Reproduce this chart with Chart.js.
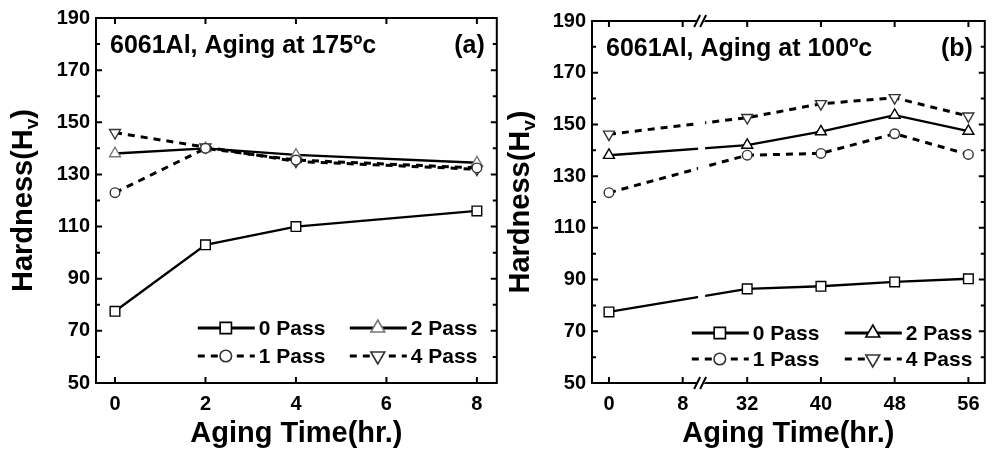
<!DOCTYPE html>
<html>
<head>
<meta charset="utf-8">
<script src="https://cdn.jsdelivr.net/npm/chart.js@4"></script>
<style>
  body { margin: 0; background: #fff; }
  #wrap { position: relative; width: 993px; height: 456px; overflow: hidden; }
  .panel { position: absolute; top: 0; }
</style>
</head>
<body>
<div id="wrap">
  <canvas id="chartA" class="panel" style="left:0" width="505" height="456"></canvas>
  <canvas id="chartB" class="panel" style="left:503px" width="490" height="456"></canvas>
</div>
<script>
// panel (a): aging at 175 C
const hoursA = [0, 2, 4, 8];
const pass0A = [77.5, 103, 110, 116];
const pass1A = [123, 140, 135.5, 132.5];
const pass2A = [138, 140, 137.5, 134.5];
const pass4A = [146, 140.5, 135, 132];
const ticksA = [0, 2, 4, 6, 8];

// panel (b): aging at 100 C (axis broken between 8 and 32 h)
const hoursB = [0, 32, 40, 48, 56];
const pass0B = [77.5, 86.4, 87.4, 89.1, 90.3];
const pass1B = [123.6, 138.1, 138.8, 146.4, 138.4];
const pass2B = [138.1, 142, 147.2, 153.6, 147.4];
const pass4B = [146.2, 152.6, 158, 160.3, 153.2];
const ticksB = [0, 8, 32, 40, 48, 56];

const yTicks = [50, 70, 90, 110, 130, 150, 170, 190];
const labels = ['0 Pass', '1 Pass', '2 Pass', '4 Pass'];

const FONT = "'Liberation Sans', Arial, Helvetica, sans-serif";

// broken axis: hours after the break are pulled left by 17 units
const breakB = 10;
const toAxisB = h => (h <= 8 ? h : h - 17);

function pts(xs, ys, fx) {
  return xs.map((h, i) => ({ x: fx ? fx(h) : h, y: ys[i] }));
}

function makeSets(xs, s0, s1, s2, s4, fx, triColor) {
  const base = {
    showLine: true, borderColor: '#000', backgroundColor: '#fff',
    pointBackgroundColor: '#fff', pointBorderWidth: 1.4, pointHoverRadius: 6
  };
  return [
    Object.assign({}, base, { label: labels[0], data: pts(xs, s0, fx), borderWidth: 2.4,
      pointStyle: 'rect', pointRadius: 6.8, pointBorderColor: '#000' }),
    Object.assign({}, base, { label: labels[1], data: pts(xs, s1, fx), borderWidth: 3, borderDash: [7, 6],
      pointStyle: 'circle', pointRadius: 4.8, pointBorderColor: '#333' }),
    Object.assign({}, base, { label: labels[2], data: pts(xs, s2, fx), borderWidth: 2.4,
      pointStyle: 'triangle', pointRadius: 6.3, pointBorderColor: triColor }),
    Object.assign({}, base, { label: labels[3], data: pts(xs, s4, fx), borderWidth: 3, borderDash: [7, 6],
      pointStyle: 'triangle', pointRotation: 180, pointRadius: 6.3, pointBorderColor: '#333' })
  ];
}

function decor(cfg) {
  return {
    id: 'decor',
    afterDatasetsDraw(chart) {
      if (cfg.breakAt === undefined) return;
      const { ctx, chartArea: a, scales: { x } } = chart;
      const px = x.getPixelForValue(cfg.breakAt);
      ctx.save();
      ctx.fillStyle = '#fff';
      ctx.fillRect(px - 3, a.top + 2, 7, a.bottom - a.top - 4);
      ctx.restore();
    },
    afterDraw(chart) {
      const { ctx, chartArea: a, scales: { x, y } } = chart;
      ctx.save();
      ctx.strokeStyle = '#000';
      ctx.lineWidth = 2;
      ctx.strokeRect(a.left, a.top, a.right - a.left, a.bottom - a.top);

      // inward ticks, all four sides
      ctx.beginPath();
      for (let v = 60; v < 190; v += 10) {
        const py = y.getPixelForValue(v);
        const len = (v - 50) % 20 === 0 ? 6 : 4;
        ctx.moveTo(a.left, py); ctx.lineTo(a.left + len, py);
        ctx.moveTo(a.right, py); ctx.lineTo(a.right - len, py);
      }
      cfg.xTicks.forEach(t => {
        const px = x.getPixelForValue(t);
        ctx.moveTo(px, a.bottom); ctx.lineTo(px, a.bottom - 6);
        ctx.moveTo(px, a.top); ctx.lineTo(px, a.top + 6);
      });
      ctx.stroke();

      // axis break marks
      if (cfg.breakAt !== undefined) {
        const px = x.getPixelForValue(cfg.breakAt);
        [a.top, a.bottom].forEach(py => {
          ctx.fillStyle = '#fff';
          ctx.beginPath();
          ctx.moveTo(px - 6, py + 3); ctx.lineTo(px + 1, py + 3);
          ctx.lineTo(px + 6, py - 3); ctx.lineTo(px - 1, py - 3);
          ctx.closePath(); ctx.fill();
          ctx.lineWidth = 2;
          ctx.beginPath();
          ctx.moveTo(px - 7, py + 6); ctx.lineTo(px - 1, py - 6);
          ctx.moveTo(px - 1, py + 6); ctx.lineTo(px + 5, py - 6);
          ctx.stroke();
        });
      }

      // panel text
      ctx.fillStyle = '#000';
      ctx.textBaseline = 'alphabetic';
      ctx.font = 'bold 25px ' + FONT;
      ctx.textAlign = 'left';
      ctx.fillText(cfg.note, a.left + 14, a.top + 35);
      ctx.textAlign = 'right';
      ctx.fillText(cfg.tag, a.right - 12, a.top + 35);

      // y title with subscript v
      ctx.save();
      ctx.translate(cfg.yTitleX, (a.top + a.bottom) / 2);
      ctx.rotate(-Math.PI / 2);
      ctx.textBaseline = 'middle';
      ctx.textAlign = 'left';
      const big = 'bold 29px ' + FONT, small = 'bold 19px ' + FONT;
      ctx.font = big;
      const w1 = ctx.measureText('Hardness(H').width, w3 = ctx.measureText(')').width;
      ctx.font = small;
      const w2 = ctx.measureText('v').width;
      let sx = -(w1 + w2 + w3) / 2;
      ctx.font = big; ctx.fillText('Hardness(H', sx, 0); sx += w1;
      ctx.font = small; ctx.fillText('v', sx, 9); sx += w2;
      ctx.font = big; ctx.fillText(')', sx, 0);
      ctx.restore();

      // legend inside the plot
      const rows = [[0, 2], [1, 3]];
      ctx.font = 'bold 21px ' + FONT;
      ctx.textAlign = 'left';
      ctx.textBaseline = 'middle';
      rows.forEach((row, r) => {
        const ly = a.bottom - cfg.legRows[r];
        row.forEach((di, c) => {
          const ds = chart.data.datasets[di];
          const x0 = a.right - cfg.legCols[c];
          ctx.save();
          ctx.strokeStyle = '#000';
          ctx.lineWidth = ds.borderDash ? 3 : 3.2;
          ctx.setLineDash(ds.borderDash || []);
          ctx.beginPath();
          ctx.moveTo(x0, ly); ctx.lineTo(x0 + 57, ly);
          ctx.stroke();
          ctx.setLineDash([]);
          ctx.fillStyle = '#fff';
          ctx.strokeStyle = ds.pointBorderColor;
          ctx.lineWidth = 1.6;
          Chart.helpers.drawPoint(ctx, {
            pointStyle: ds.pointStyle, rotation: ds.pointRotation || 0,
            radius: ds.pointStyle === 'circle' ? 5.8 : 8, borderWidth: 1.6
          }, x0 + 28, ly);
          ctx.restore();
          ctx.fillStyle = '#000';
          ctx.fillText(ds.label, x0 + 61, ly + 1);
        });
      });
      ctx.restore();
    }
  };
}

function makeChart(id, sets, xMin, xMax, xTicks, tickText, pad, cfg) {
  return new Chart(document.getElementById(id), {
    type: 'scatter',
    data: { datasets: sets },
    options: {
      responsive: false,
      animation: false,
      layout: { padding: pad },
      plugins: { legend: { display: false }, tooltip: { enabled: false } },
      scales: {
        x: {
          type: 'linear', min: xMin, max: xMax,
          grid: { display: false, drawTicks: false },
          border: { display: false },
          afterBuildTicks: s => { s.ticks = xTicks.map(v => ({ value: v })); },
          afterFit: s => { s.height = 456 - 383 - pad.bottom; },
          ticks: {
            padding: 9, color: '#000', font: { family: FONT, size: 20, weight: 'bold' },
            callback: v => tickText(v), maxRotation: 0, autoSkip: false
          },
          title: {
            display: true, text: 'Aging Time(hr.)', color: '#000',
            font: { family: FONT, size: 29, weight: 'bold' }, padding: { top: 0, bottom: 5 }
          }
        },
        y: {
          min: 50, max: 190,
          grid: { display: false, drawTicks: false },
          border: { display: false },
          afterBuildTicks: s => { s.ticks = yTicks.map(v => ({ value: v })); },
          afterFit: s => { s.width = cfg.yWidth; },
          ticks: { padding: 6, color: '#000', font: { family: FONT, size: 20, weight: 'bold' } }
        }
      }
    },
    plugins: [decor(cfg)]
  });
}

makeChart('chartA',
  makeSets(hoursA, pass0A, pass1A, pass2A, pass4A, null, '#777'),
  -0.42, 8.44, ticksA, v => String(v),
  { left: 0, top: 18, right: 8, bottom: 0 },
  { yWidth: 96, xTicks: ticksA, note: '6061Al, Aging at 175\u00bac', tag: '(a)', yTitleX: 24,
    legRows: [55, 27], legCols: [299, 147] });

const axisTicksB = ticksB.map(toAxisB);
makeChart('chartB',
  makeSets(hoursB, pass0B, pass1B, pass2B, pass4B, toAxisB, '#000'),
  -1.84, 40.78, axisTicksB,
  v => { const i = axisTicksB.indexOf(v); return i >= 0 ? String(ticksB[i]) : ''; },
  { left: 0, top: 21, right: 1.5, bottom: 0 },
  { yWidth: 89, xTicks: axisTicksB, breakAt: breakB, note: '6061Al, Aging at 100\u00bac', tag: '(b)', yTitleX: 18,
    legRows: [50, 24], legCols: [293, 140] });
</script>
</body>
</html>
